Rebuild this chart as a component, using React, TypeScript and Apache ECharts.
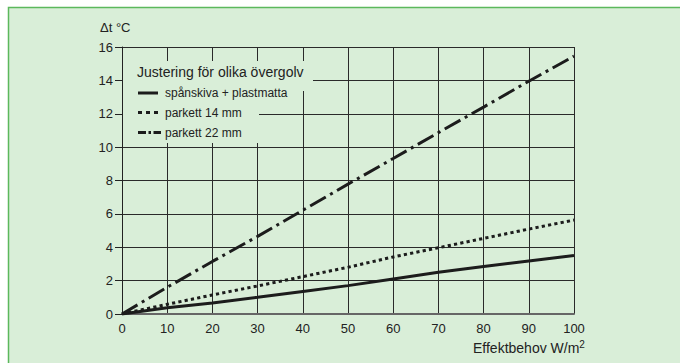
import React, { useEffect, useRef } from "react";
import * as echarts from "echarts";

const xValues = [0, 10, 20, 30, 40, 50, 60, 70, 80, 90, 100];
const spanskiva = [0, 0.37, 0.66, 1.0, 1.35, 1.7, 2.1, 2.5, 2.85, 3.18, 3.5];
const parkett14 = [0, 0.58, 1.14, 1.68, 2.24, 2.8, 3.42, 3.97, 4.53, 5.09, 5.63];
const parkett22 = [0, 1.6, 3.15, 4.65, 6.22, 7.78, 9.32, 10.87, 12.4, 13.95, 15.45];
const seriesNames = ["spånskiva + plastmatta", "parkett 14 mm", "parkett 22 mm"];
const legendTitle = "Justering för olika övergolv";
const yAxisTitle = "Δt °C";
const xAxisTitle = "Effektbehov W/m";

const FONT = "'Liberation Sans', Arial, Helvetica, sans-serif";
const BG = "#d9eed8";
const INK = "#1c1c1c";

export default function App() {
  const ref = useRef<HTMLDivElement>(null);
  useEffect(() => {
    if (!ref.current) return;
    const chart = echarts.init(ref.current, undefined, { renderer: "svg" });
    const pairs = (ys: number[]) => xValues.map((x, i) => [x, ys[i]]);
    const textStyle = { fontFamily: FONT, fill: "#222" };
    chart.setOption({
      animation: false,
      backgroundColor: "#ffffff",
      grid: { left: 122, right: 106, top: 47, bottom: 49, containLabel: false },
      xAxis: {
        type: "value",
        min: 0,
        max: 100,
        interval: 10,
        axisLine: { show: true, onZero: false, lineStyle: { color: "#666", width: 2 } },
        axisTick: { show: false },
        axisLabel: { color: "#222", fontFamily: FONT, fontSize: 13, margin: 8 },
        splitLine: { show: true, lineStyle: { color: "#2a2a2a", width: 1 } },
      },
      yAxis: {
        type: "value",
        min: 0,
        max: 16,
        interval: 2,
        axisLine: { show: true, lineStyle: { color: "#222", width: 1 } },
        axisTick: { show: true, length: 7, lineStyle: { color: "#222", width: 1 } },
        axisLabel: { color: "#222", fontFamily: FONT, fontSize: 13, margin: 9 },
        splitLine: { show: true, lineStyle: { color: "#2a2a2a", width: 1 } },
      },
      graphic: [
        {
          type: "rect",
          z: -10,
          silent: true,
          shape: { x: 8.5, y: 7.5, width: 700, height: 400 },
          style: { fill: BG, stroke: "#5cb85c", lineWidth: 1.5 },
        },
        {
          type: "polygon",
          z: 50,
          silent: true,
          shape: {
            points: [
              [123, 61],
              [313, 61],
              [313, 91],
              [296, 91],
              [296, 102],
              [259, 102],
              [259, 143],
              [123, 143],
            ],
          },
          style: { fill: BG },
        },
        {
          type: "text",
          z: 60,
          x: 137,
          y: 72,
          style: { ...textStyle, text: legendTitle, fontSize: 14, verticalAlign: "middle" },
        },
        {
          type: "line",
          z: 60,
          shape: { x1: 138, y1: 93, x2: 158, y2: 93 },
          style: { stroke: INK, lineWidth: 3 },
        },
        {
          type: "line",
          z: 60,
          shape: { x1: 138, y1: 112.5, x2: 158, y2: 112.5 },
          style: { stroke: INK, lineWidth: 3, lineDash: [4, 4] },
        },
        {
          type: "line",
          z: 60,
          shape: { x1: 138, y1: 132.5, x2: 161, y2: 132.5 },
          style: { stroke: INK, lineWidth: 3, lineDash: [8, 2.5, 2.5, 2.5] },
        },
        {
          type: "text",
          z: 60,
          x: 165,
          y: 93,
          style: { ...textStyle, text: seriesNames[0], fontSize: 12, verticalAlign: "middle" },
        },
        {
          type: "text",
          z: 60,
          x: 165,
          y: 112.5,
          style: { ...textStyle, text: seriesNames[1], fontSize: 12, verticalAlign: "middle" },
        },
        {
          type: "text",
          z: 60,
          x: 165,
          y: 132.5,
          style: { ...textStyle, text: seriesNames[2], fontSize: 12, verticalAlign: "middle" },
        },
        {
          type: "text",
          z: 60,
          x: 100,
          y: 27,
          style: { ...textStyle, text: yAxisTitle, fontSize: 13, verticalAlign: "middle" },
        },
        {
          type: "text",
          z: 60,
          x: 473,
          y: 348,
          style: {
            ...textStyle,
            text: "{a|" + xAxisTitle + "}{s|2}",
            align: "left",
            verticalAlign: "middle",
            rich: {
              a: { fontFamily: FONT, fontSize: 14, fill: "#222", color: "#222" },
              s: { fontFamily: FONT, fontSize: 10, fill: "#222", color: "#222", verticalAlign: "top", padding: [0, 0, 7, 0] },
            },
          },
        },
      ],
      series: [
        {
          name: seriesNames[0],
          type: "line",
          data: pairs(spanskiva),
          showSymbol: false,
          z: 10,
          lineStyle: { color: INK, width: 3, type: "solid" },
        },
        {
          name: seriesNames[1],
          type: "line",
          data: pairs(parkett14),
          showSymbol: false,
          z: 10,
          lineStyle: { color: INK, width: 3, type: [3.2, 3.2], cap: "butt" },
        },
        {
          name: seriesNames[2],
          type: "line",
          data: pairs(parkett22),
          showSymbol: false,
          z: 10,
          lineStyle: { color: INK, width: 3, type: [18, 5, 3, 5], cap: "butt" },
        },
      ],
    });
    return () => chart.dispose();
  }, []);
  return (
    <div
      ref={ref}
      style={{ position: "absolute", left: 0, top: 0, width: 680, height: 363 }}
    />
  );
}
